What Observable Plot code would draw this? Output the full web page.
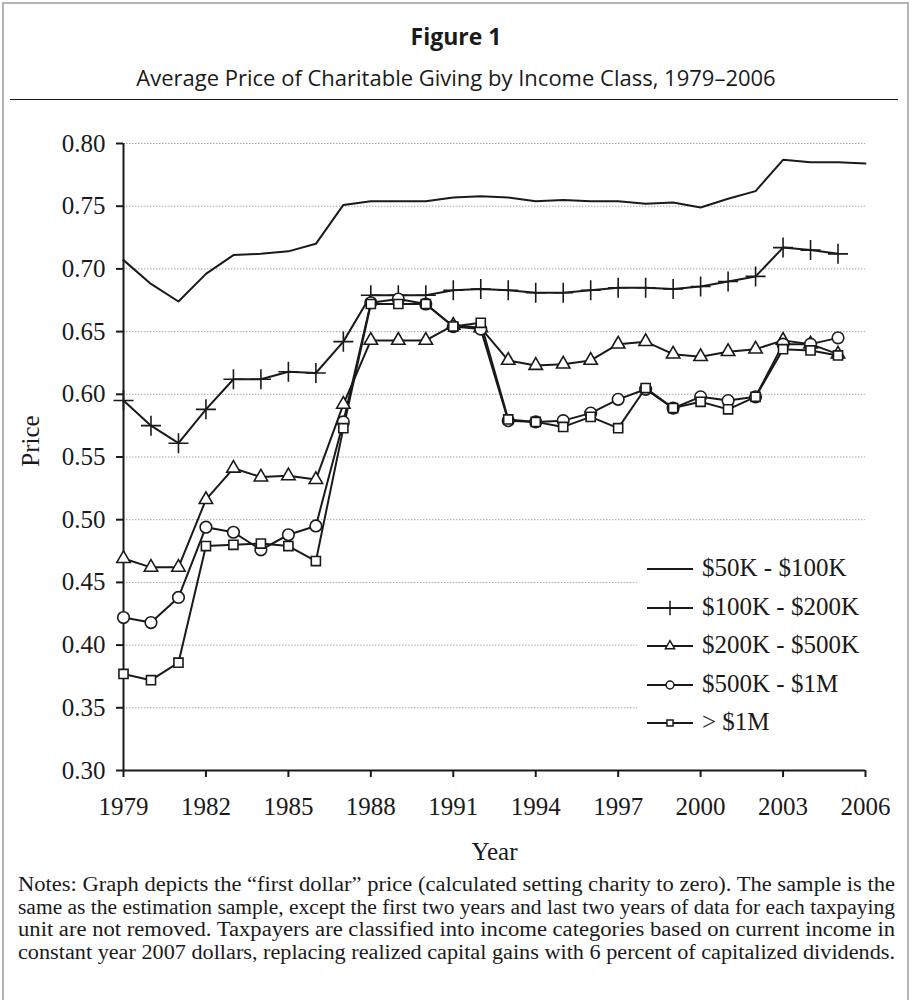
<!DOCTYPE html>
<html>
<head>
<meta charset="utf-8">
<script src="https://cdn.jsdelivr.net/npm/d3@7"></script>
<script src="https://cdn.jsdelivr.net/npm/@observablehq/plot@0.6"></script>
<style>
  body { margin: 0; background: #fff; }
  #fig { position: relative; width: 912px; height: 1000px; overflow: hidden; background: #fff; }
  #frame { position: absolute; left: 2px; top: 2px; width: 907px; height: 1020px; border: 2.5px solid #b5b5b5; box-sizing: border-box; }
  .sans { font-family: "Open Sans", "Noto Sans", sans-serif; color: #1a1a1a; position: absolute; left: 0; width: 912px; text-align: center; white-space: nowrap; }
  #title { top: 21px; font-size: 23px; font-weight: 700; line-height: 30px; }
  #subtitle { top: 62px; font-size: 22px; line-height: 30px; }
  #rule { position: absolute; left: 10px; width: 888px; top: 99px; height: 0; border-top: 1.5px solid #1a1a1a; }
  #chart { position: absolute; left: 0; top: 110px; }
  #ylabel { position: absolute; left: -19px; top: 426px; width: 100px; line-height: 30px; text-align: center; transform: rotate(-90deg); font-family: "Liberation Serif", "Times New Roman", serif; font-size: 25px; color: #1a1a1a; }
  .legend { position: absolute; left: 637px; top: 540px; width: 228px; height: 200px; background: #fff; }
  .lrow { position: absolute; left: 0; height: 30px; display: flex; align-items: center; font-family: "Liberation Serif", "Times New Roman", serif; font-size: 25px; color: #1a1a1a; white-space: nowrap; }
  .lrow svg { display: block; margin-right: 7px; }
  #notes { position: absolute; left: 18px; width: 877px; top: 873px; font-family: "Liberation Serif", "Times New Roman", serif; font-size: 20px; line-height: 22.5px; color: #1a1a1a; }
  #notes div { white-space: nowrap; height: 22.5px; }
  #notes span { display: inline-block; transform-origin: 0 50%; }
</style>
</head>
<body>
<div id="fig">
  <div id="frame"></div>
  <div id="title" class="sans">Figure 1</div>
  <div id="subtitle" class="sans">Average Price of Charitable Giving by Income Class, 1979–2006</div>
  <div id="rule"></div>
  <div id="chart"></div>
  <div id="ylabel">Price</div>
  <div id="notes">
    <div><span>Notes: Graph depicts the “first dollar” price (calculated setting charity to zero). The sample is the</span></div>
    <div><span>same as the estimation sample, except the first two years and last two years of data for each taxpaying</span></div>
    <div><span>unit are not removed. Taxpayers are classified into income categories based on current income in</span></div>
    <div><span>constant year 2007 dollars, replacing realized capital gains with 6 percent of capitalized dividends.</span></div>
  </div>
</div>
<script>
// ---- data ----
const years = [1979, 1980, 1981, 1982, 1983, 1984, 1985, 1986, 1987, 1988, 1989, 1990, 1991, 1992,
               1993, 1994, 1995, 1996, 1997, 1998, 1999, 2000, 2001, 2002, 2003, 2004, 2005, 2006];
const seriesNames = ["$50K - $100K", "$100K - $200K", "$200K - $500K", "$500K - $1M", "> $1M"];
const price50K = [0.707, 0.688, 0.674, 0.696, 0.711, 0.712, 0.714, 0.720, 0.751, 0.754, 0.754, 0.754, 0.757, 0.758,
                  0.757, 0.754, 0.755, 0.754, 0.754, 0.752, 0.753, 0.749, 0.756, 0.762, 0.787, 0.785, 0.785, 0.784];
const price100K = [0.595, 0.575, 0.561, 0.588, 0.612, 0.612, 0.618, 0.617, 0.642, 0.679, 0.679, 0.679, 0.683, 0.684,
                   0.683, 0.681, 0.681, 0.683, 0.685, 0.685, 0.684, 0.686, 0.690, 0.694, 0.717, 0.715, 0.712];
const price200K = [0.469, 0.462, 0.462, 0.516, 0.541, 0.534, 0.535, 0.532, 0.592, 0.643, 0.643, 0.643, 0.655, 0.653,
                   0.627, 0.623, 0.624, 0.627, 0.640, 0.642, 0.632, 0.630, 0.634, 0.636, 0.643, 0.640, 0.632];
const price500K = [0.422, 0.418, 0.438, 0.494, 0.490, 0.476, 0.488, 0.495, 0.578, 0.673, 0.676, 0.672, 0.654, 0.652,
                   0.579, 0.578, 0.579, 0.585, 0.596, 0.604, 0.589, 0.598, 0.595, 0.598, 0.640, 0.640, 0.645];
const price1M = [0.377, 0.372, 0.386, 0.479, 0.480, 0.481, 0.479, 0.467, 0.573, 0.672, 0.672, 0.672, 0.654, 0.657,
                 0.580, 0.578, 0.574, 0.582, 0.573, 0.605, 0.589, 0.594, 0.588, 0.598, 0.636, 0.635, 0.631];
const xTicks = [1979, 1982, 1985, 1988, 1991, 1994, 1997, 2000, 2003, 2006];
const yTicks = [0.30, 0.35, 0.40, 0.45, 0.50, 0.55, 0.60, 0.65, 0.70, 0.75, 0.80];

// ---- build table ----
const valueLists = [price50K, price100K, price200K, price500K, price1M];
const data = [];
valueLists.forEach((vals, i) => vals.forEach((v, j) => data.push({series: seriesNames[i], year: years[j], value: v})));

const ink = "#1a1a1a";
const symbols = [null, "plus", "triangle2", "circle", "square2"];
const symbolR = [0, 6.5, 6.4, 5.8, 5.8];

const markerMarks = seriesNames.map((s, i) => symbols[i] ? Plot.dot(data.filter(d => d.series === s), {
  x: "year", y: "value", symbol: symbols[i], r: symbolR[i],
  fill: symbols[i] === "plus" ? "none" : "white", stroke: ink, strokeWidth: 1.6
}) : null).filter(Boolean);

const chart = Plot.plot({
  width: 912,
  height: 770,
  marginTop: 33,
  marginBottom: 110,
  marginLeft: 123,
  marginRight: 47,
  style: {fontFamily: "'Liberation Serif', 'Times New Roman', serif", fontSize: "25px", color: ink, background: "transparent"},
  x: {domain: [1979, 2006]},
  y: {domain: [0.30, 0.80]},
  marks: [
    Plot.gridY(yTicks.filter(t => t > 0.3), {stroke: "#a6a6a6", strokeOpacity: 1, strokeWidth: 1, strokeDasharray: "1.5,1.5"}),
    Plot.axisX({ticks: xTicks, tickFormat: "d", tickSize: 7, tickPadding: 20, label: "Year", labelAnchor: "center", labelArrow: "none", labelOffset: 89, strokeWidth: 2}),
    Plot.axisY({ticks: yTicks, tickFormat: ".2f", tickSize: 7, tickPadding: 11, label: null, strokeWidth: 2}),
    Plot.ruleX([1979], {y1: 0.30, y2: 0.80, stroke: ink, strokeWidth: 2}),
    Plot.ruleY([0.30], {stroke: ink, strokeWidth: 2}),
    Plot.line(data, {x: "year", y: "value", z: "series", stroke: ink, strokeWidth: 2}),
    ...markerMarks
  ]
});
document.getElementById("chart").appendChild(chart);

// ---- legend (overlaid inside plot area) ----
const legend = d3.select("#fig").append("div").attr("class", "legend");
const d3sym = {plus: d3.symbolPlus, triangle2: d3.symbolTriangle2, circle: d3.symbolCircle, square2: d3.symbolSquare2};
const legSize = [0, 70, 60, 48, 48];
seriesNames.forEach((s, i) => {
  const row = legend.append("div").attr("class", "lrow").style("top", (13 + i * 38.5) + "px").style("left", "10px");
  const svg = row.append("svg").attr("width", 48).attr("height", 24);
  svg.append("line").attr("x1", 0).attr("x2", 46).attr("y1", 13).attr("y2", 13).attr("stroke", ink).attr("stroke-width", 2);
  if (symbols[i]) {
    svg.append("path").attr("d", d3.symbol(d3sym[symbols[i]], legSize[i])())
      .attr("transform", "translate(23,13)")
      .attr("fill", symbols[i] === "plus" ? "none" : "white")
      .attr("stroke", ink).attr("stroke-width", 1.5);
  }
  row.append("span").text(s);
});

// ---- fit each notes line to the full text width (condensed setting, as in the original) ----
document.querySelectorAll("#notes span").forEach(sp => {
  const w = sp.getBoundingClientRect().width;
  sp.style.transform = `scaleX(${877 / w})`;
});
</script>
</body>
</html>
